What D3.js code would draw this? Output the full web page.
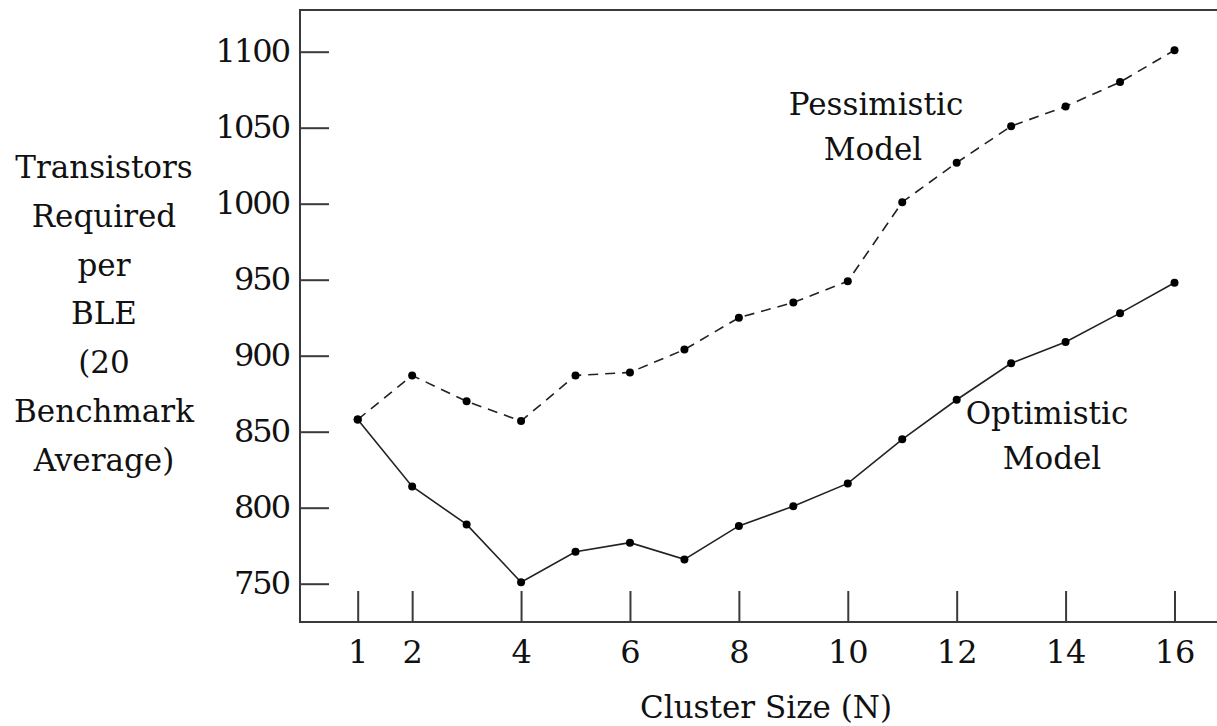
<!DOCTYPE html>
<html>
<head>
<meta charset="utf-8">
<script src="https://cdn.jsdelivr.net/npm/d3@7"></script>
<style>
  body { margin: 0; background: #fff; }
  svg text { font-family: "DejaVu Serif", "Liberation Serif", "Times New Roman", serif; fill: #111; }
</style>
</head>
<body>
<div id="chart"></div>
<script>
// cluster size N
var clusterSizes = [1, 2, 3, 4, 5, 6, 7, 8, 9, 10, 11, 12, 13, 14, 15, 16];
// transistors per BLE, pessimistic model
var pessimistic = [858, 887, 870, 857, 887, 889, 904, 925, 935, 949, 1001, 1027, 1051, 1064, 1080, 1101];
// transistors per BLE, optimistic model
var optimistic = [858, 814, 789, 751, 771, 777, 766, 788, 801, 816, 845, 871, 895, 909, 928, 948];

var xTicks = [1, 2, 4, 6, 8, 10, 12, 14, 16];
var yTicks = [750, 800, 850, 900, 950, 1000, 1050, 1100];
var yTitle = ["Transistors", "Required", "per", "BLE", "(20", "Benchmark", "Average)"];

var width = 1217,
    height = 726;
var serif = "'DejaVu Serif', 'Liberation Serif', 'Times New Roman', serif";

var svg = d3.select("#chart").append("svg")
    .attr("width", width)
    .attr("height", height);

var x = d3.scaleLinear().domain([1, 16]).range([357.7, 1174.5]);
var y = d3.scaleLinear().domain([750, 1100]).range([583.7, 51.7]);

var boxLeft = 300, boxTop = 10, boxBottom = 622;

// frame (open on the right)
svg.append("path")
    .attr("d", "M" + width + "," + boxTop + "H" + boxLeft + "V" + boxBottom + "H" + width)
    .attr("fill", "none")
    .attr("stroke", "#3a3a3a")
    .attr("stroke-width", 2);

// y axis, ticks pointing inward
var yAxis = svg.append("g")
    .attr("transform", "translate(" + boxLeft + ",0)")
    .call(d3.axisLeft(y).tickValues(yTicks).tickSizeInner(-29).tickSizeOuter(0).tickPadding(11).tickFormat(d3.format("d")));
yAxis.attr("font-family", serif);
yAxis.select(".domain").remove();
yAxis.selectAll("line").attr("stroke", "#3a3a3a").attr("stroke-width", 2);
yAxis.selectAll("text")
    .attr("font-size", 32)
    .attr("fill", "#111")
    .attr("letter-spacing", "-2px");

// x axis, ticks pointing up
var xAxis = svg.append("g")
    .attr("transform", "translate(0," + boxBottom + ")")
    .call(d3.axisBottom(x).tickValues(xTicks).tickSizeInner(-31).tickSizeOuter(0).tickPadding(18));
xAxis.attr("font-family", serif);
xAxis.select(".domain").remove();
xAxis.selectAll("line").attr("stroke", "#3a3a3a").attr("stroke-width", 2);
xAxis.selectAll("text")
    .attr("font-size", 32)
    .attr("fill", "#111");

// axis titles
svg.append("text")
    .attr("x", 766)
    .attr("y", 718)
    .attr("text-anchor", "middle")
    .attr("font-size", 31)
    .text("Cluster Size (N)");

svg.selectAll(".ytitle")
    .data(yTitle)
    .enter()
    .append("text")
    .attr("class", "ytitle")
    .attr("x", 104)
    .attr("y", function (d, i) {
        return 178 + i * 48.8;
    })
    .attr("text-anchor", "middle")
    .attr("font-size", 31)
    .text(function (d) {
        return d;
    });

var line = d3.line()
    .x(function (d) { return x(d[0]); })
    .y(function (d) { return y(d[1]); });

var series = [
    { name: "pessimistic", values: pessimistic, dash: "10,7" },
    { name: "optimistic", values: optimistic, dash: null }
];

series.forEach(function (s) {
    var pts = clusterSizes.map(function (n, i) { return [n, s.values[i]]; });

    svg.append("path")
        .datum(pts)
        .attr("d", line)
        .attr("fill", "none")
        .attr("stroke", "#222")
        .attr("stroke-width", 1.6)
        .attr("stroke-dasharray", s.dash);

    svg.selectAll(".dot-" + s.name)
        .data(pts)
        .enter()
        .append("circle")
        .attr("class", "dot-" + s.name)
        .attr("cx", function (d) { return x(d[0]); })
        .attr("cy", function (d) { return y(d[1]); })
        .attr("r", 4)
        .attr("fill", "#000");
});

// series labels
var labels = [
    { text: "Pessimistic", x: 876, y: 115 },
    { text: "Model", x: 873, y: 160 },
    { text: "Optimistic", x: 1047, y: 424 },
    { text: "Model", x: 1052, y: 469 }
];

svg.selectAll(".label")
    .data(labels)
    .enter()
    .append("text")
    .attr("class", "label")
    .attr("x", function (d) { return d.x; })
    .attr("y", function (d) { return d.y; })
    .attr("text-anchor", "middle")
    .attr("font-size", 31)
    .text(function (d) { return d.text; });
</script>
</body>
</html>
